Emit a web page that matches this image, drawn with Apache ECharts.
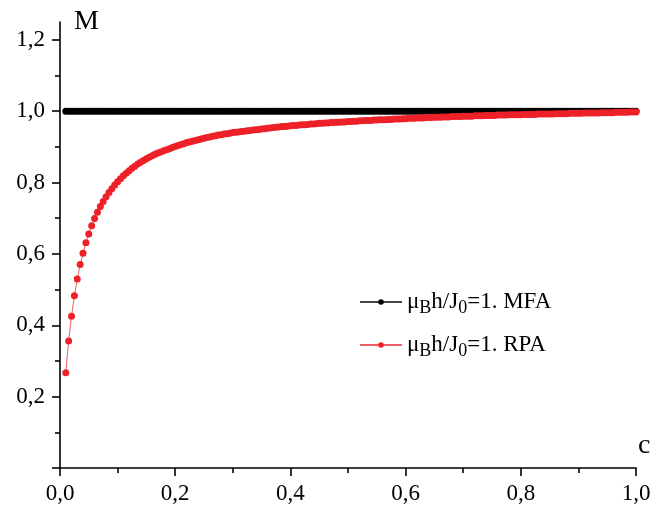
<!DOCTYPE html>
<html>
<head>
<meta charset="utf-8">
<script src="https://cdn.jsdelivr.net/npm/echarts@6/dist/echarts.min.js"></script>
<style>
html,body{margin:0;padding:0;background:#fff;}
#chart{width:658px;height:513px;}
</style>
</head>
<body>
<div id="chart"></div>
<script>
// concentration c (x)
const cValues = [
0.010,0.015,0.020,0.025,0.030,0.035,0.040,0.045,0.050,0.055,
0.060,0.065,0.070,0.075,0.080,0.085,0.090,0.095,0.100,0.105,
0.110,0.115,0.120,0.125,0.130,0.135,0.140,0.145,0.150,0.155,
0.160,0.165,0.170,0.175,0.180,0.185,0.190,0.195,0.200,0.205,
0.210,0.215,0.220,0.225,0.230,0.235,0.240,0.245,0.250,0.255,
0.260,0.265,0.270,0.275,0.280,0.285,0.290,0.295,0.300,0.305,
0.310,0.315,0.320,0.325,0.330,0.335,0.340,0.345,0.350,0.355,
0.360,0.365,0.370,0.375,0.380,0.385,0.390,0.395,0.400,0.405,
0.410,0.415,0.420,0.425,0.430,0.435,0.440,0.445,0.450,0.455,
0.460,0.465,0.470,0.475,0.480,0.485,0.490,0.495,0.500,0.505,
0.510,0.515,0.520,0.525,0.530,0.535,0.540,0.545,0.550,0.555,
0.560,0.565,0.570,0.575,0.580,0.585,0.590,0.595,0.600,0.605,
0.610,0.615,0.620,0.625,0.630,0.635,0.640,0.645,0.650,0.655,
0.660,0.665,0.670,0.675,0.680,0.685,0.690,0.695,0.700,0.705,
0.710,0.715,0.720,0.725,0.730,0.735,0.740,0.745,0.750,0.755,
0.760,0.765,0.770,0.775,0.780,0.785,0.790,0.795,0.800,0.805,
0.810,0.815,0.820,0.825,0.830,0.835,0.840,0.845,0.850,0.855,
0.860,0.865,0.870,0.875,0.880,0.885,0.890,0.895,0.900,0.905,
0.910,0.915,0.920,0.925,0.930,0.935,0.940,0.945,0.950,0.955,
0.960,0.965,0.970,0.975,0.980,0.985,0.990,0.995,1.000
];
// M, mean-field approximation
const mfaValues = [
1,1,1,1,1,1,1,1,1,1, 1,1,1,1,1,1,1,1,1,1,
1,1,1,1,1,1,1,1,1,1, 1,1,1,1,1,1,1,1,1,1,
1,1,1,1,1,1,1,1,1,1, 1,1,1,1,1,1,1,1,1,1,
1,1,1,1,1,1,1,1,1,1, 1,1,1,1,1,1,1,1,1,1,
1,1,1,1,1,1,1,1,1,1, 1,1,1,1,1,1,1,1,1,1,
1,1,1,1,1,1,1,1,1,1, 1,1,1,1,1,1,1,1,1,1,
1,1,1,1,1,1,1,1,1,1, 1,1,1,1,1,1,1,1,1,1,
1,1,1,1,1,1,1,1,1,1, 1,1,1,1,1,1,1,1,1,1,
1,1,1,1,1,1,1,1,1,1, 1,1,1,1,1,1,1,1,1,1,
1,1,1,1,1,1,1,1,1,1, 1,1,1,1,1,1,1,1,1
];
// M, random phase approximation
const rpaValues = [
0.267,0.356,0.425,0.483,0.530,0.570,0.602,0.631,0.656,0.679,
0.699,0.717,0.733,0.747,0.760,0.772,0.783,0.793,0.802,0.811,
0.819,0.826,0.833,0.840,0.846,0.852,0.857,0.862,0.867,0.871,
0.875,0.879,0.883,0.886,0.889,0.892,0.895,0.898,0.901,0.904,
0.907,0.909,0.912,0.914,0.916,0.918,0.920,0.922,0.924,0.926,
0.928,0.930,0.931,0.933,0.934,0.936,0.937,0.938,0.940,0.941,
0.942,0.943,0.944,0.945,0.946,0.947,0.948,0.949,0.950,0.951,
0.952,0.953,0.954,0.955,0.956,0.957,0.957,0.958,0.959,0.960,
0.960,0.961,0.962,0.962,0.963,0.964,0.964,0.965,0.966,0.966,
0.967,0.967,0.968,0.968,0.969,0.969,0.970,0.970,0.971,0.971,
0.972,0.972,0.973,0.973,0.974,0.974,0.974,0.975,0.975,0.976,
0.976,0.976,0.977,0.977,0.978,0.978,0.978,0.979,0.979,0.980,
0.980,0.980,0.981,0.981,0.981,0.982,0.982,0.982,0.983,0.983,
0.983,0.984,0.984,0.984,0.985,0.985,0.985,0.985,0.986,0.986,
0.986,0.986,0.987,0.987,0.987,0.987,0.988,0.988,0.988,0.988,
0.989,0.989,0.989,0.989,0.990,0.990,0.990,0.990,0.990,0.991,
0.991,0.991,0.991,0.991,0.992,0.992,0.992,0.992,0.992,0.992,
0.993,0.993,0.993,0.993,0.993,0.994,0.994,0.994,0.994,0.994,
0.995,0.995,0.995,0.995,0.995,0.995,0.996,0.996,0.996,0.996,
0.996,0.997,0.997,0.997,0.997,0.997,0.998,0.998,0.998
];
const xTicks = [0, 0.2, 0.4, 0.6, 0.8, 1.0];
const yMajorTicks = [0, 0.2, 0.4, 0.6, 0.8, 1.0, 1.2];
const yLabelTicks = [0.2, 0.4, 0.6, 0.8, 1.0, 1.2];
const yMinorTicks = [0.1, 0.3, 0.5, 0.7, 0.9, 1.1];
const seriesNames = ['MFA', 'RPA'];

const FONT = '"Liberation Serif", "Times New Roman", serif';
const fmt = v => v.toFixed(1).replace('.', ',');
const axisCol = '#000';

const chart = echarts.init(document.getElementById('chart'), null, {renderer: 'canvas'});
const richStyles = {
  n: {fontFamily: FONT, fontSize: 23, color: '#000'},
  s: {fontFamily: FONT, fontSize: 18, color: '#000', padding: [12, 0, 0, 0]}
};
chart.setOption({
  animation: false,
  backgroundColor: '#fff',
  grid: {left: 60, right: 22, top: 22, bottom: 45, containLabel: false},
  legend: {
    data: seriesNames,
    orient: 'vertical',
    left: 354,
    top: 283,
    itemWidth: 42,
    itemHeight: 7,
    itemGap: 14,
    formatter: name => '{n|μ}{s|B}{n|h/J}{s|0}{n|=1. ' + name + '}',
    textStyle: {rich: richStyles, lineHeight: 28}
  },
  xAxis: {
    type: 'value', min: 0, max: 1.0, interval: 0.2,
    name: 'c', nameLocation: 'end', nameGap: 2,
    nameTextStyle: {fontFamily: FONT, fontSize: 28, color: '#000', align: 'left', verticalAlign: 'bottom', padding: [0, 0, 8, 0]},
    axisLine: {show: true, onZero: false, lineStyle: {color: axisCol, width: 1.6}},
    axisTick: {show: true, inside: false, length: 8, lineStyle: {color: axisCol, width: 1.6}, customValues: xTicks},
    minorTick: {show: true, splitNumber: 2, length: 5, lineStyle: {color: axisCol, width: 1.6}},
    axisLabel: {fontFamily: FONT, fontSize: 23, color: '#000', margin: 14, formatter: fmt, customValues: xTicks},
    splitLine: {show: false}
  },
  yAxis: [{
    type: 'value', min: 0, max: 1.25,
    name: 'M', nameLocation: 'end', nameGap: 0,
    nameTextStyle: {fontFamily: FONT, fontSize: 28, color: '#000', align: 'left', verticalAlign: 'middle', padding: [0, 0, 0, 14]},
    axisLine: {show: true, onZero: false, lineStyle: {color: axisCol, width: 1.6}},
    axisTick: {show: true, inside: false, length: 8, lineStyle: {color: axisCol, width: 1.6}, customValues: yMajorTicks},
    axisLabel: {fontFamily: FONT, fontSize: 23, color: '#000', margin: 15, formatter: fmt, customValues: yLabelTicks},
    splitLine: {show: false}
  }, {
    type: 'value', min: 0, max: 1.25, position: 'left', offset: 0,
    axisLine: {show: false},
    axisTick: {show: true, inside: false, length: 5, lineStyle: {color: axisCol, width: 1.6}, customValues: yMinorTicks},
    axisLabel: {show: false},
    splitLine: {show: false}
  }],
  series: [{
    name: 'MFA', type: 'line', yAxisIndex: 0,
    data: cValues.map((c, i) => [c, mfaValues[i]]),
    symbol: 'circle', symbolSize: 7, showSymbol: true, showAllSymbol: true,
    itemStyle: {color: '#000'},
    lineStyle: {color: '#444', width: 1},
    z: 2
  }, {
    name: 'RPA', type: 'line', yAxisIndex: 0,
    data: cValues.map((c, i) => [c, rpaValues[i]]),
    symbol: 'circle', symbolSize: 7, showSymbol: true, showAllSymbol: true,
    itemStyle: {color: '#ee2028'},
    lineStyle: {color: '#f06068', width: 1},
    z: 3
  }]
});
</script>
</body>
</html>
